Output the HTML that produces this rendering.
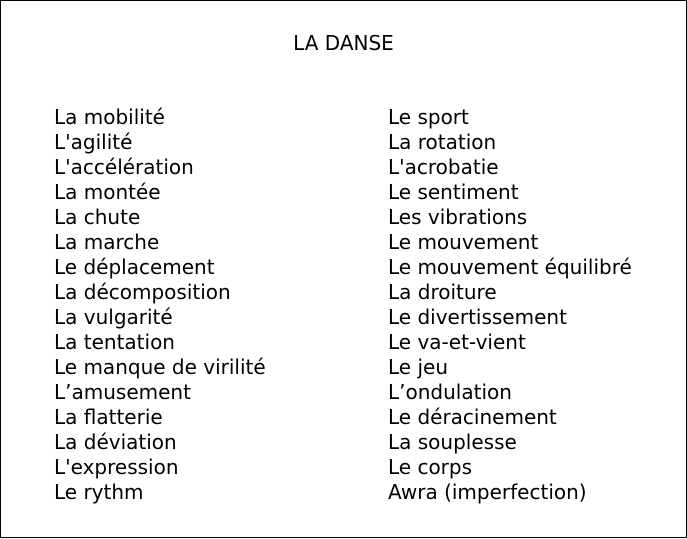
<!DOCTYPE html>
<html><head><meta charset="utf-8"><style>
html,body{margin:0;padding:0;background:#fff;}
body{width:687px;height:539px;position:relative;overflow:hidden;font-family:"DejaVu Sans","Liberation Sans",sans-serif;font-size:20px;color:#000;}
.frame{position:absolute;left:0;top:0;width:685px;height:536px;border:1px solid #000;}
.t{position:absolute;top:31px;left:0;width:687px;text-align:center;line-height:25px;}
.c{position:absolute;top:105px;line-height:25px;white-space:nowrap;}
</style></head><body>
<div class="frame"></div>
<div class="t">LA DANSE</div>
<div class="c" style="left:54px">La mobilité<br>L'agilité<br>L'accélération<br>La montée<br>La chute<br>La marche<br>Le déplacement<br>La décomposition<br>La vulgarité<br>La tentation<br>Le manque de virilité<br>L’amusement<br>La flatterie<br>La déviation<br>L'expression<br>Le rythm</div>
<div class="c" style="left:388px">Le sport<br>La rotation<br>L'acrobatie<br>Le sentiment<br>Les vibrations<br>Le mouvement<br>Le mouvement équilibré<br>La droiture<br>Le divertissement<br>Le va-et-vient<br>Le jeu<br>L’ondulation<br>Le déracinement<br>La souplesse<br>Le corps<br>Awra (imperfection)</div>
</body></html>
